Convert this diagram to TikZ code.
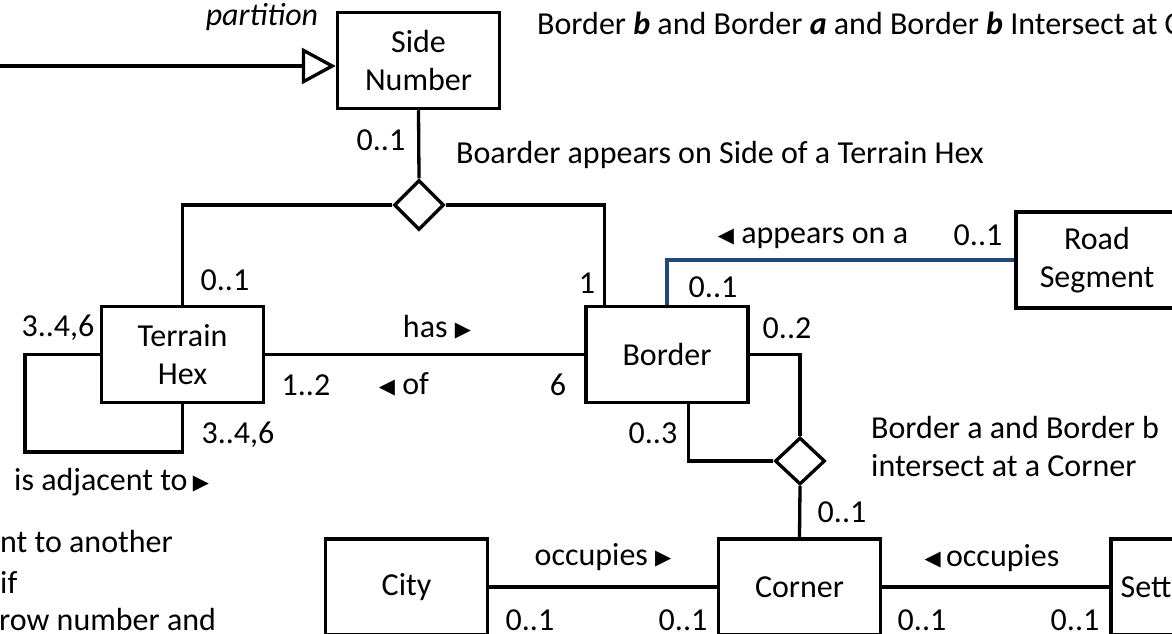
\documentclass[tikz,border=0pt]{standalone}
\usepackage{fontspec}
\setmainfont{Carlito}
\newfontfamily\symf{DejaVu Sans}
\usetikzlibrary{shapes.geometric,arrows.meta,calc}
\newcommand\rtri{\raisebox{1pt}{\symf\fontsize{21}{21}\selectfont ▶}}
\newcommand\ltri{\raisebox{1pt}{\symf\fontsize{21}{21}\selectfont ◀}}
\definecolor{roadblue}{RGB}{31,73,125}
\begin{document}
\begin{tikzpicture}[x=1pt,y=-1pt,
  every node/.style={font=\fontsize{32}{38}\selectfont},
  cls/.style={draw, line width=3.5pt, minimum width=162pt, minimum height=96pt, inner sep=0pt, align=center, fill=white},
  assoc/.style={draw, diamond, line width=3.3pt, minimum width=50pt, minimum height=50pt, inner sep=0pt, fill=white},
  conn/.style={line width=3.3pt},
  roadline/.style={line width=3.3pt, draw=roadblue},
  gen/.style={line width=3.3pt, -{Triangle[open, length=34pt, width=36pt]}},
  lbl/.style={inner sep=0pt}]
\useasboundingbox (0,0) rectangle (1172,634);
\clip (0,0) rectangle (1172,634);

% classes
\node[cls] (SN) at (418.5,60.5) {Side\\Number};
\node[cls] (TH) at (182.5,354.5) {Terrain\\Hex};
\node[cls] (BO) at (667,354.5) {Border};
\node[cls] (RS) at (1097,260) {Road\\Segment};
\node[cls] (CI) at (406.5,587) {City};
\node[cls] (CO) at (799.5,587) {Corner};
\node[cls] (SE) at (1192,587) {Settlement};

% association diamonds
\node[assoc] (D1) at (419,205) {};
\node[assoc, minimum height=47pt] (D2) at (800,461) {};

% connectors
\coordinate (genL) at (-10,66);
\draw[gen] (genL) -- (genL -| SN.west);
\draw[conn] (SN.south) -- (D1.north);
\draw[conn] (D1.west) -| (TH.north);
\coordinate (boTop) at ($(BO.north west)+(20,0)$);
\draw[conn] (D1.east) -| (boTop);
\draw[conn] (TH.east) -- (BO.west);
\coordinate (loop) at (25,452);
\draw[conn] (TH.west) -| (loop) -| (TH.south);
\draw[roadline] (BO.north) |- (RS.west);
\draw[conn] (BO.east) -| (D2.north);
\coordinate (boBot) at ($(BO.south west)+(104,0)$);
\draw[conn] (boBot) |- (D2.west);
\draw[conn] (D2.south) -- (CO.north);
\draw[conn] (CI.east) -- (CO.west);
\draw[conn] (CO.east) -- (SE.west);

% labels
\node[lbl] (lpart) at (262,17) {\itshape partition};
\node[lbl] (m1) at (381,140) {0..1};
\node[lbl, anchor=west] (lboarder) at (456,155) {Boarder appears on Side of a Terrain Hex};
\node[lbl, anchor=west] (ltop) at (537,23) {Border \textbf{\textit{b}} and Border \textbf{\textit{a}} and Border \textbf{\textit{b}} Intersect at Corners};
\node[lbl] (m2) at (225,280) {0..1};
\node[lbl] (m3) at (587,283) {1};
\node[lbl] (m4) at (58,328) {3..4,6};
\node[lbl] (lhas) at (437,327) {has \rtri};
\node[lbl] (lof) at (404,384) {\ltri\ of};
\node[lbl] (m5) at (306,385) {1..2};
\node[lbl] (m6) at (558,385) {6};
\node[lbl] (m7) at (238,435) {3..4,6};
\node[lbl, anchor=west] (ladj) at (14,482) {is adjacent to\,\rtri};
\node[lbl, anchor=west] (n1) at (0,542) {nt to another};
\node[lbl, anchor=west] (n2) at (0,582) {if};
\node[lbl, anchor=west] (n3) at (-1,619) {row number and};
\node[lbl] (lapp) at (813,238) {\ltri\ appears on a};
\node[lbl] (m8) at (978,235) {0..1};
\node[lbl] (m9) at (713,287) {0..1};
\node[lbl] (m10) at (787,328) {0..2};
\node[lbl] (m11) at (653,433) {0..3};
\node[lbl] (m12) at (842,512) {0..1};
\node[lbl, anchor=west, align=left] (lint) at (871,446.5) {Border a and Border b\\intersect at a Corner};
\node[lbl] (locc1) at (603,557) {occupies \rtri};
\node[lbl] (locc2) at (992,558) {\ltri\,occupies};
\node[lbl] (m13) at (530,620) {0..1};
\node[lbl] (m14) at (683,620) {0..1};
\node[lbl] (m15) at (922,620) {0..1};
\node[lbl] (m16) at (1075,620) {0..1};
\end{tikzpicture}
\end{document}
